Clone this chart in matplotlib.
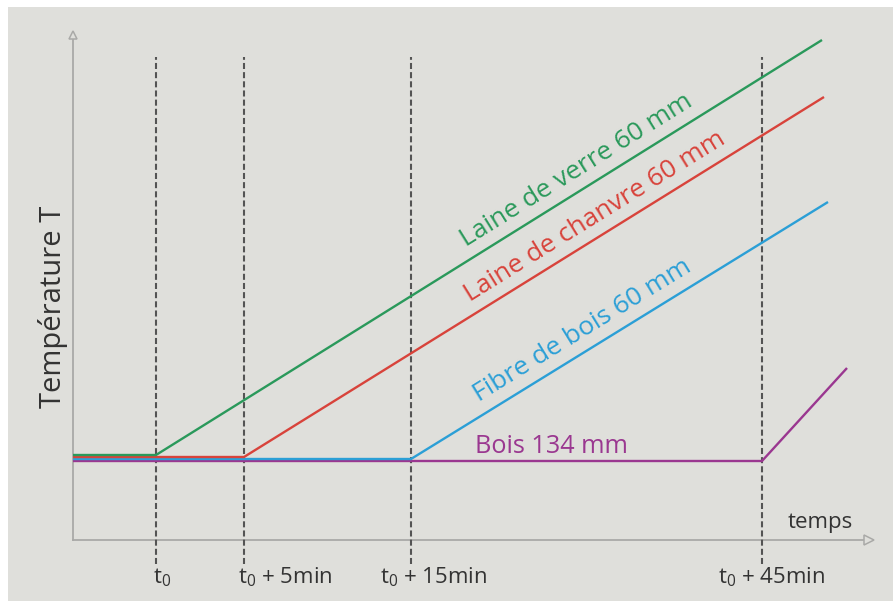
import numpy as np
import matplotlib
matplotlib.use("Agg")
import matplotlib.pyplot as plt
from matplotlib.patches import Rectangle

plt.rcParams['font.family'] = ['Open Sans', 'DejaVu Sans']
plt.rcParams['mathtext.fontset'] = 'custom'
plt.rcParams['mathtext.rm'] = 'Open Sans'
plt.rcParams['mathtext.default'] = 'regular'

# ---- data (schematic units) ----
event_labels = [r't$_{0}$', r't$_{0}$ + 5min', r't$_{0}$ + 15min', r't$_{0}$ + 45min']
event_x = [8.3, 17.1, 33.8, 68.9]

series_names = ['Bois 134 mm', 'Fibre de bois 60 mm', 'Laine de chanvre 60 mm', 'Laine de verre 60 mm']
series_start_T = [7.9, 8.1, 8.3, 8.5]          # flat level before rise
series_knee_x = [68.9, 33.8, 17.1, 8.3]        # start of rise
series_end_x = [77.4, 75.5, 75.1, 74.9]
series_end_T = [17.2, 33.8, 44.3, 50.0]
series_colors = ['#9a3790', '#2b9fd6', '#d8433b', '#2a995b']

label_start_x = [None, 40.6, 39.7, 39.3]       # along-line label start (rotated labels)

W, H = 893, 601
fig = plt.figure(figsize=(W / 100, H / 100), dpi=100)
fig.patch.set_facecolor('white')
fig.patches.append(Rectangle((8 / W, 0), 1, (H - 7) / H, transform=fig.transFigure,
                             facecolor='#dfdfdb', edgecolor='none', zorder=-10))

ax = fig.add_axes([73 / W, 61 / H, 800 / W, 510 / H])
ax.set_xlim(0, 80)
ax.set_ylim(0, 51)
ax.axis('off')
ax.patch.set_alpha(0)

# axes with open arrows
axis_col = '#a9a9a7'
ax.plot([0, 0], [0, 50.2], color=axis_col, lw=1.3, clip_on=False, zorder=1)
ax.plot([0, 79.3], [0, 0], color=axis_col, lw=1.3, clip_on=False, zorder=1)
ax.plot([0], [50.5], marker='^', ms=6, mfc='#dfdfdb', mec=axis_col, mew=1.1, clip_on=False)
ax.plot([79.6], [0], marker='>', ms=7, mfc='#dfdfdb', mec=axis_col, mew=1.1, clip_on=False)

# dashed event lines
ax.vlines(event_x, -2.4, 48.3, colors='#545454', lw=1.5,
          linestyles=[(0, (2.9, 1.5))], clip_on=False, zorder=2)

# event tick labels
tick_label_x = [8.0, 16.5, 30.7, 64.5]
for lx, lab in zip(tick_label_x, event_labels):
    ax.text(lx, -4.3, lab, fontsize=16, color='#333333', ha='left', va='baseline',
            clip_on=False)

# series
for i in range(len(series_names)):
    xs = [0, series_knee_x[i], series_end_x[i]]
    ys = [series_start_T[i], series_start_T[i], series_end_T[i]]
    ax.plot(xs, ys, color=series_colors[i], lw=1.7, solid_capstyle='butt',
            solid_joinstyle='miter', zorder=3 + i, clip_on=False)

fig.canvas.draw()
for i in range(len(series_names)):
    if label_start_x[i] is None:
        continue
    x0, y0 = series_knee_x[i], series_start_T[i]
    x1, y1 = series_end_x[i], series_end_T[i]
    p0 = ax.transData.transform((x0, y0))
    p1 = ax.transData.transform((x1, y1))
    ang = np.degrees(np.arctan2(p1[1] - p0[1], p1[0] - p0[0]))
    lx = label_start_x[i]
    ly = y0 + (y1 - y0) * (lx - x0) / (x1 - x0)
    ax.annotate(series_names[i], (lx, ly), xytext=(0, 10.8), textcoords='offset points',
                rotation=ang, rotation_mode='anchor', ha='left', va='baseline',
                fontsize=19, color=series_colors[i])

# Bois label (horizontal)
ax.text(40.2, 8.7, series_names[0], fontsize=18.2, color=series_colors[0],
        ha='left', va='baseline')

# axis titles
ax.text(74.7, 1.2, 'temps', fontsize=16, color='#333333', ha='center', va='baseline')
fig.text(53 / W, 1 - 307 / H, 'Température T', fontsize=21, color='#333333',
         rotation=90, ha='center', va='center')

fig.savefig('out.png', dpi=100, facecolor=fig.get_facecolor())
